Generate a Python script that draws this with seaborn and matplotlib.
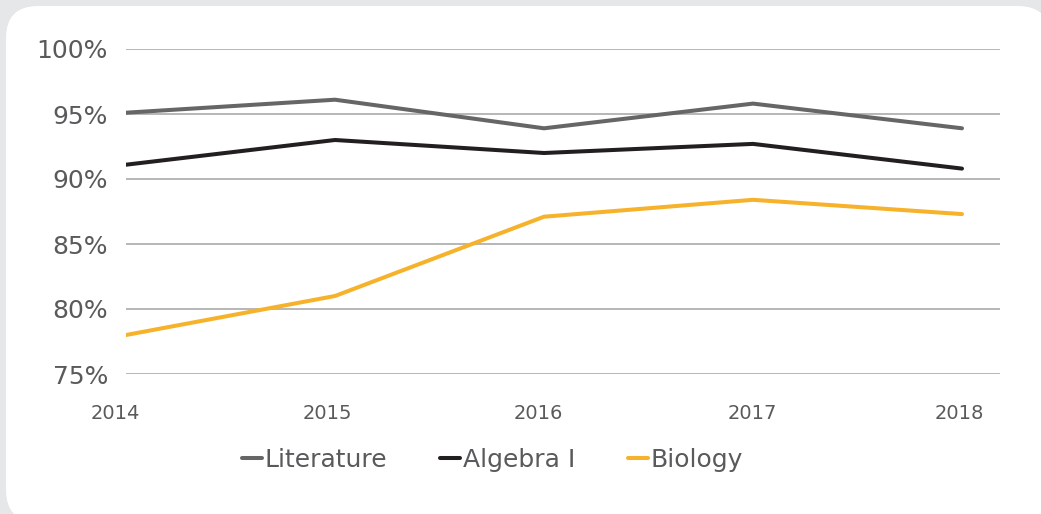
import pandas as pd
import matplotlib.pyplot as plt
import seaborn as sns
from matplotlib.patches import FancyBboxPatch

years = [2014, 2015, 2016, 2017, 2018]
literature = [95.1, 96.1, 93.9, 95.8, 93.9]
algebra = [91.1, 93.0, 92.0, 92.7, 90.8]
biology = [78.0, 81.0, 87.1, 88.4, 87.3]
subjects = ["Literature", "Algebra I", "Biology"]
y_ticks = [75, 80, 85, 90, 95, 100]

colors = {"Literature": "#666666", "Algebra I": "#231f20", "Biology": "#f7b22b"}
text_color = "#5a5a5c"
# year labels sit a touch left of their data points in the original
label_shift = [-0.05, -0.035, -0.025, -0.005, -0.015]

df = pd.DataFrame({
    "year": years * 3,
    "score": literature + algebra + biology,
    "subject": [s for s in subjects for _ in years],
})

sns.set_style("white")
plt.rcParams["font.family"] = ["DejaVu Sans"]

W, H = 1041, 514
fig = plt.figure(figsize=(W / 100, H / 100), dpi=100)
fig.patch.set_facecolor("#e6e7e8")

# white rounded card, drawn in pixel units
card = FancyBboxPatch((6, -8), 1044, 516,
                      boxstyle="round,pad=0,rounding_size=32",
                      transform=None, facecolor="white",
                      edgecolor="none", zorder=-5)
fig.patches.append(card)

ax = fig.add_axes([126 / W, 1 - 374 / H, (1000 - 126) / W, (374 - 49) / H])
ax.set_facecolor("none")
ax.set_zorder(2)

sns.lineplot(data=df, x="year", y="score", hue="subject", palette=colors,
             hue_order=subjects, linewidth=2.9, ax=ax, legend=True)

ax.set_yticks(y_ticks)
ax.set_yticklabels([f"{t}%" for t in y_ticks], fontsize=18, color=text_color)
ax.set_xticks([])
ax.set_xlim(2014, 2018 + 38 / 209)
ax.set_ylim(75, 100)
ax.tick_params(axis="y", length=0, pad=13)
ax.yaxis.grid(True, color="#a3a3a3", linewidth=1.1)
ax.xaxis.grid(False)
for s in ax.spines.values():
    s.set_visible(False)
ax.set_xlabel("")
ax.set_ylabel("")

for yr, sh in zip(years, label_shift):
    ax.text(yr + sh, -0.123, str(yr), transform=ax.get_xaxis_transform(),
            ha="center", va="center", fontsize=14, color=text_color,
            clip_on=False)

handles, labels = ax.get_legend_handles_labels()
ax.legend(handles, labels, loc="center", bbox_to_anchor=(0.419, -0.265),
          ncol=3, frameon=False, fontsize=18, labelcolor=text_color,
          handlelength=0.8, handletextpad=0.12, columnspacing=2.1,
          borderpad=0)

fig.savefig("out.png", dpi=100, facecolor=fig.get_facecolor())
